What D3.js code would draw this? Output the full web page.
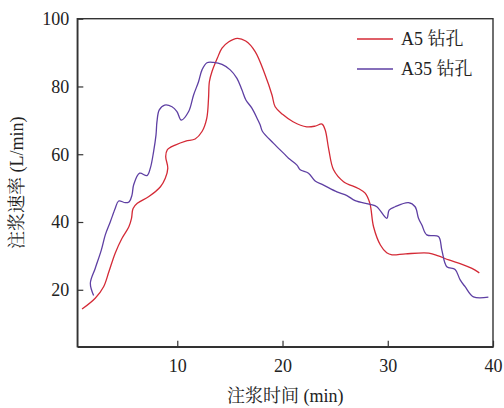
<!DOCTYPE html>
<html lang="zh">
<head>
<meta charset="UTF-8" />
<title>注浆速率</title>
<script src="https://d3js.org/d3.v7.min.js"></script>
<style>
  body { margin: 0; background: #fff; }
  text { font-family: "Liberation Serif", "Noto Serif CJK SC", "Noto Sans CJK SC", serif; fill: #222; }
</style>
</head>
<body>
<script>
    // A5 钻孔 (time min, rate L/min)
    var a5Time = [0.95, 2.2, 3.0, 3.5, 4.1, 4.75, 5.4, 5.65, 5.8, 6.2, 7.3, 8.4, 8.86, 9.1, 8.9, 9.05, 9.8, 10.8, 11.7,
        12.35, 12.8, 12.97, 13.05, 13.3, 13.8, 14.25, 14.9, 15.7, 16.5, 17.4, 18.35, 19.0, 19.3, 20.0, 21.0, 22.3,
        23.1, 23.75, 24.05, 24.4, 24.85, 25.8, 27.2, 27.85, 28.3, 28.65, 29.3, 29.9, 30.4, 31.7, 33.9, 34.8, 35.8,
        37.0, 38.0, 38.7];
    var a5Rate = [14.3, 17.5, 20.9, 25.3, 30.8, 35.2, 38.6, 41.1, 44.0, 45.5, 47.5, 50.4, 52.9, 55.9, 59.3, 61.3, 62.7, 63.9, 64.5,
        66.7, 70.6, 76.5, 81.4, 84.4, 88.3, 91.3, 93.2, 94.2, 93.4, 90.3, 83.4, 77.5, 74.0, 71.8, 69.6, 68.1,
        68.3, 68.9, 67.2, 61.3, 55.4, 51.9, 49.9, 48.5, 45.5, 38.6, 33.2, 30.9, 30.3, 30.6, 30.8, 30.0, 28.8,
        27.6, 26.3, 25.0];

    // A35 钻孔
    var a35Time = [2.05, 1.74, 2.2, 2.78, 3.16, 3.64, 4.1, 4.43, 5.06, 5.44, 5.7, 5.85, 6.42, 7.12, 7.44, 7.75, 7.98,
        8.07, 8.29, 8.8, 9.5, 9.97, 10.38, 11.08, 11.55, 12.02, 12.35, 12.82, 13.45, 14.25, 15.03, 15.67, 16.14,
        16.52, 17.09, 17.66, 17.88, 18.1, 19.15, 20.26, 20.57, 21.37, 21.68, 22.47, 23.1, 23.9, 25.17, 26.12,
        26.9, 28.33, 28.96, 29.91, 30.13, 30.7, 31.97, 32.6, 32.92, 33.24, 33.71, 34.82, 35.14, 35.61, 36.4,
        36.88, 37.35, 38.14, 39.56];
    var a35Rate = [18.3, 21.9, 26.3, 31.7, 36.2, 40.1, 44.0, 46.2, 45.7, 46.0, 48.0, 50.9, 54.4, 53.7, 55.9, 60.8, 65.7,
        69.6, 73.1, 74.5, 74.0, 72.6, 70.1, 72.6, 77.5, 81.4, 84.9, 87.0, 87.1, 86.5, 84.9, 82.4, 79.0,
        76.0, 73.6, 70.1, 68.6, 66.7, 63.2, 59.8, 58.8, 56.8, 55.4, 54.4, 52.1, 50.9, 48.9, 47.8,
        46.3, 45.2, 44.5, 41.1, 43.5, 44.5, 45.7, 44.5, 41.1, 39.1, 36.2, 35.7, 31.7, 26.8, 26.0,
        22.9, 20.9, 17.9, 17.8];

    var xTicks = [10, 20, 30, 40];
    var yTicks = [20, 40, 60, 80, 100];
    var seriesNames = ["A5 钻孔", "A35 钻孔"];
    var seriesColors = ["#d42a36", "#5e3fa3"];

    var w = 504;
    var h = 408;
    // plot box (named so they don't clash with window.top)
    var plotL = 77.3, plotR = 493, plotT = 18.7, plotB = 346.7;

    var xScale = d3.scaleLinear().domain([0.5, 40]).range([plotL, plotR]);
    var yScale = d3.scaleLinear().domain([3.2, 100]).range([plotB, plotT]);

    var svg = d3.select("body").append("svg")
        .attr("width", w)
        .attr("height", h);

    var xAxis = d3.axisBottom(xScale).tickValues(xTicks).tickSizeInner(-6).tickSizeOuter(0).tickPadding(13);
    var yAxis = d3.axisLeft(yScale).tickValues(yTicks).tickSizeInner(-6).tickSizeOuter(0).tickPadding(8);

    svg.append("g").attr("class", "x axis")
        .attr("transform", "translate(0," + plotB + ")")
        .call(xAxis);
    svg.append("g").attr("class", "y axis")
        .attr("transform", "translate(" + plotL + ",0)")
        .call(yAxis);

    svg.selectAll(".axis text")
        .style("font-family", "'Liberation Serif', serif")
        .style("font-size", "18px")
        .attr("fill", "#222");
    svg.selectAll(".axis .domain").attr("stroke", "#333").attr("stroke-width", 1.4);
    svg.selectAll(".axis .tick line").attr("stroke", "#333").attr("stroke-width", 1.2);

    // frame on top and right
    svg.append("rect")
        .attr("x", plotL).attr("y", plotT)
        .attr("width", plotR - plotL).attr("height", plotB - plotT)
        .attr("fill", "none")
        .attr("stroke", "#333")
        .attr("stroke-width", 1.4);

    var line = d3.line()
        .x(function (d) { return xScale(d[0]); })
        .y(function (d) { return yScale(d[1]); })
        .curve(d3.curveCatmullRom.alpha(0.5));

    var series = [
        d3.zip(a5Time, a5Rate),
        d3.zip(a35Time, a35Rate)
    ];

    svg.selectAll("path.series")
        .data(series)
        .enter()
        .append("path")
        .attr("class", "series")
        .attr("d", line)
        .attr("fill", "none")
        .attr("stroke", function (d, i) { return seriesColors[i]; })
        .attr("stroke-width", 1.3);

    // legend
    var legend = svg.selectAll("g.legend")
        .data(seriesNames)
        .enter()
        .append("g")
        .attr("class", "legend")
        .attr("transform", function (d, i) { return "translate(357," + (39 + i * 30) + ")"; });

    legend.append("line")
        .attr("x1", 0).attr("x2", 36)
        .attr("stroke", function (d, i) { return seriesColors[i]; })
        .attr("stroke-width", 1.3);

    legend.append("text")
        .attr("x", 44)
        .attr("y", 6)
        .style("font-size", "18px")
        .text(function (d) { return d; });

    // axis titles
    svg.append("text")
        .attr("x", (plotL + plotR) / 2)
        .attr("y", 402)
        .attr("text-anchor", "middle")
        .style("font-size", "18px")
        .text("注浆时间 (min)");

    svg.append("text")
        .attr("transform", "translate(23," + ((plotT + plotB) / 2) + ") rotate(-90)")
        .attr("text-anchor", "middle")
        .style("font-size", "18px")
        .text("注浆速率 (L/min)");
</script>
</body>
</html>
